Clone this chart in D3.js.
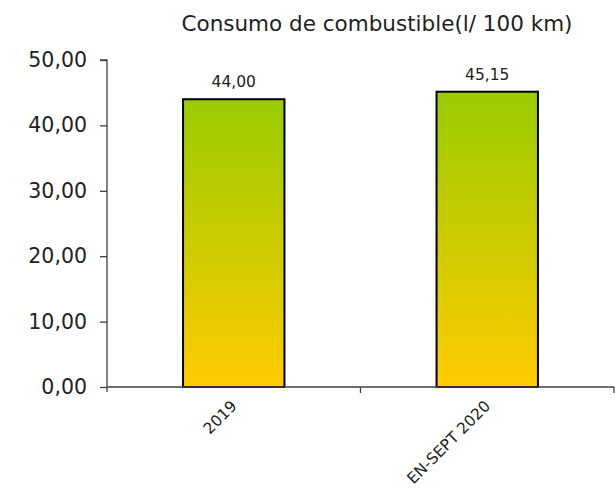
<!DOCTYPE html>
<html>
<head>
<meta charset="utf-8">
<script src="https://cdn.jsdelivr.net/npm/d3@7"></script>
<style>
  html, body { margin: 0; padding: 0; background: #fff; }
  svg { display: block; font-family: Verdana, "DejaVu Sans", sans-serif; }
</style>
</head>
<body>
<svg id="chart" width="615" height="494"></svg>
<script>
// Fuel consumption per period
const categories = ["2019", "EN-SEPT 2020"];
const values = [44.00, 45.15];
const yTicks = [0, 10, 20, 30, 40, 50];
const title = "Consumo de combustible(l/ 100 km)";

const fmt = v => d3.format(".2f")(v).replace(".", ",");

const svg = d3.select("#chart");
const margin = { top: 60, left: 107, right: 1, bottom: 107 };
const W = 615, H = 494;

const x = d3.scaleBand()
  .domain(categories)
  .range([margin.left, W - margin.right])
  .paddingInner(0.6)
  .paddingOuter(0.3);

const y = d3.scaleLinear()
  .domain([0, 50])
  .range([H - margin.bottom, margin.top]);

// vertical gradient: green at the top fading to yellow at the base
const defs = svg.append("defs");
const grad = defs.append("linearGradient")
  .attr("id", "barFill")
  .attr("x1", 0).attr("y1", 0).attr("x2", 0).attr("y2", 1);
grad.append("stop").attr("offset", "0%").attr("stop-color", "#99cc00");
grad.append("stop").attr("offset", "100%").attr("stop-color", "#ffcc00");

// title
svg.append("text")
  .attr("x", 377).attr("y", 31)
  .attr("text-anchor", "middle")
  .attr("font-size", 21.5)
  .attr("fill", "#222")
  .text(title);

// bars
svg.selectAll("rect.bar")
  .data(values)
  .join("rect")
  .attr("class", "bar")
  .attr("x", (d, i) => x(categories[i]))
  .attr("width", x.bandwidth())
  .attr("y", d => y(d))
  .attr("height", d => y(0) - y(d))
  .attr("fill", "url(#barFill)")
  .attr("stroke", "#000")
  .attr("stroke-width", 2);

// value labels
svg.selectAll("text.val")
  .data(values)
  .join("text")
  .attr("class", "val")
  .attr("x", (d, i) => x(categories[i]) + x.bandwidth() / 2)
  .attr("y", d => y(d) - 12)
  .attr("text-anchor", "middle")
  .attr("font-size", 15.5)
  .attr("fill", "#222")
  .text(d => fmt(d));

// y axis
const yAxis = d3.axisLeft(y)
  .tickValues(yTicks)
  .tickFormat(fmt)
  .tickSize(7)
  .tickPadding(13);
const yg = svg.append("g")
  .attr("transform", `translate(${margin.left},0)`)
  .call(yAxis);
yg.select(".domain").attr("stroke", "#404040").attr("stroke-width", 1.3)
  .attr("d", `M-7,${y(50)}H0V${y(0) + 5}`);
yg.selectAll(".tick line").attr("stroke", "#404040").attr("stroke-width", 1.3);
yg.selectAll(".tick text").attr("font-size", 20.5).attr("fill", "#222")
  .attr("font-family", "Verdana, 'DejaVu Sans', sans-serif");

// x axis: category boundaries marked with ticks
const bounds = [margin.left, margin.left + (W - margin.right - margin.left) / 2, W - margin.right];
const xg = svg.append("g");
xg.append("line")
  .attr("x1", margin.left).attr("x2", W - margin.right)
  .attr("y1", y(0)).attr("y2", y(0))
  .attr("stroke", "#404040").attr("stroke-width", 1.3);
xg.selectAll("line.bt")
  .data(bounds.slice(1))
  .join("line")
  .attr("class", "bt")
  .attr("x1", d => d).attr("x2", d => d)
  .attr("y1", y(0)).attr("y2", y(0) + 6)
  .attr("stroke", "#404040").attr("stroke-width", 1.3);

// rotated category labels
xg.selectAll("text.cat")
  .data(categories)
  .join("text")
  .attr("class", "cat")
  .attr("text-anchor", "end")
  .attr("font-size", 15.5)
  .attr("fill", "#222")
  .attr("transform", d => `translate(${x(d) + x.bandwidth() / 2 + 4},${y(0) + 20}) rotate(-45)`)
  .text(d => d);
</script>
</body>
</html>
